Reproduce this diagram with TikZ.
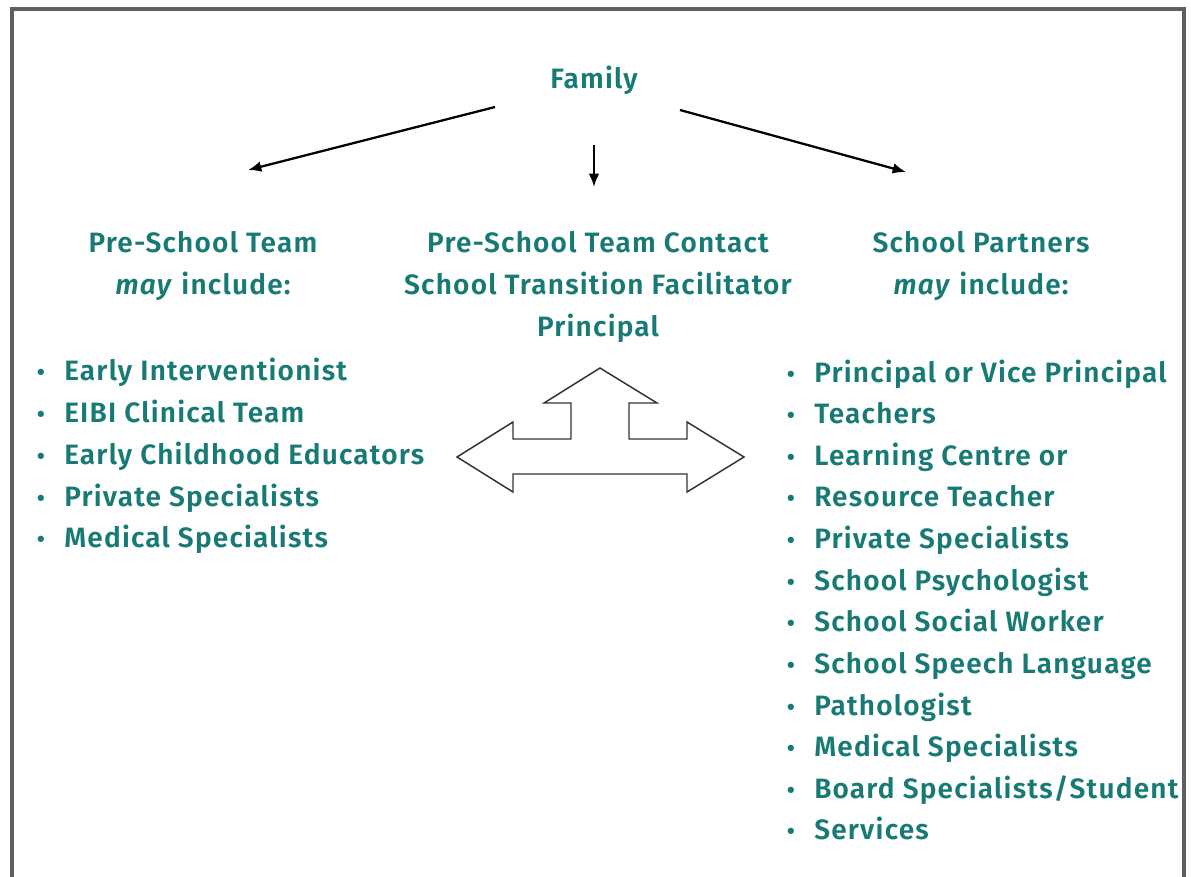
\documentclass[tikz,border=0pt]{standalone}
\usepackage{fontspec}
\setmainfont{Fira Sans}[LetterSpace=4.3,BoldFont={Fira Sans SemiBold},BoldItalicFont={Fira Sans SemiBold Italic}]
\usetikzlibrary{arrows.meta}
\definecolor{teal1}{RGB}{24,122,116}
\definecolor{frame}{RGB}{95,95,95}
\tikzset{
  txt/.style={inner sep=0pt, text=teal1, font=\fontsize{21}{25}\selectfont\bfseries},
  head/.style={txt, anchor=base},
  item/.style={txt, anchor=base west},
  conn/.style={line width=1.7pt, -{Latex[length=10pt,width=8pt]}},
  blockarrow/.style={draw=black!80, line width=1.1pt, line join=miter, fill=white}
}
\newcommand{\bul}[1]{\makebox[21pt][l]{\hspace{0.5pt}\scalebox{0.85}{\textbullet}}#1}
\begin{document}
\begin{tikzpicture}[x=0.75pt,y=-0.75pt]
\useasboundingbox (0,0) rectangle (1191,876);
% frame
\draw[frame, line width=2.6pt] (12,890) -- (12,9) -- (1184,9) -- (1184,890);

% headings
\node[head] (family) at (594,88) {Family};
\node[head] (lh1) at (203,252) {Pre-School Team};
\node[head] (lh2) at (203,294) {\textit{may} include:};
\node[head] (ch1) at (598,252) {Pre-School Team Contact};
\node[head] (ch2) at (598,294) {School Transition Facilitator};
\node[head] (ch3) at (598,336) {Principal};
\node[head] (rh1) at (981,252) {School Partners};
\node[head] (rh2) at (981,294) {\textit{may} include:};

% arrows from family
\coordinate (fL) at (495,107);
\coordinate (tL) at (248,170);
\coordinate (fC) at (594,145);
\coordinate (tC) at (594,187);
\coordinate (fR) at (680,110);
\coordinate (tR) at (906,172);
\draw[conn] (fL) -- (tL);
\draw[conn] (fC) -- (tC);
\draw[conn] (fR) -- (tR);

% left list
\node[item] (l1) at (36,380) {\bul{Early Interventionist}};
\node[item] (l2) at (36,422) {\bul{EIBI Clinical Team}};
\node[item] (l3) at (36,464) {\bul{Early Childhood Educators}};
\node[item] (l4) at (36,506) {\bul{Private Specialists}};
\node[item] (l5) at (36,547) {\bul{Medical Specialists}};

% right list
\node[item] (r1) at (786,382) {\bul{Principal or Vice Principal}};
\node[item] (r2) at (786,423) {\bul{Teachers}};
\node[item] (r3) at (786,465) {\bul{Learning Centre or}};
\node[item] (r3b) at (786,506) {\bul{Resource Teacher}};
\node[item] (r4) at (786,548) {\bul{Private Specialists}};
\node[item] (r5) at (786,590) {\bul{School Psychologist}};
\node[item] (r6) at (786,631) {\bul{School Social Worker}};
\node[item] (r7) at (786,673) {\bul{School Speech Language}};
\node[item] (r7b) at (786,715) {\bul{Pathologist}};
\node[item] (r8) at (786,756) {\bul{Medical Specialists}};
\node[item] (r9) at (786,798) {\bul{Board Specialists/Student}};
\node[item] (r9b) at (786,839) {\bul{Services}};

% three-way block arrow
\draw[blockarrow] (600,368) -- (657,403) -- (629,403) -- (629,439) -- (687,439) -- (687,422)
  -- (744,457) -- (687,492) -- (687,474) -- (513,474) -- (513,492) -- (457,457)
  -- (513,422) -- (513,439) -- (571,439) -- (571,403) -- (544,403) -- cycle;
\end{tikzpicture}
\end{document}
